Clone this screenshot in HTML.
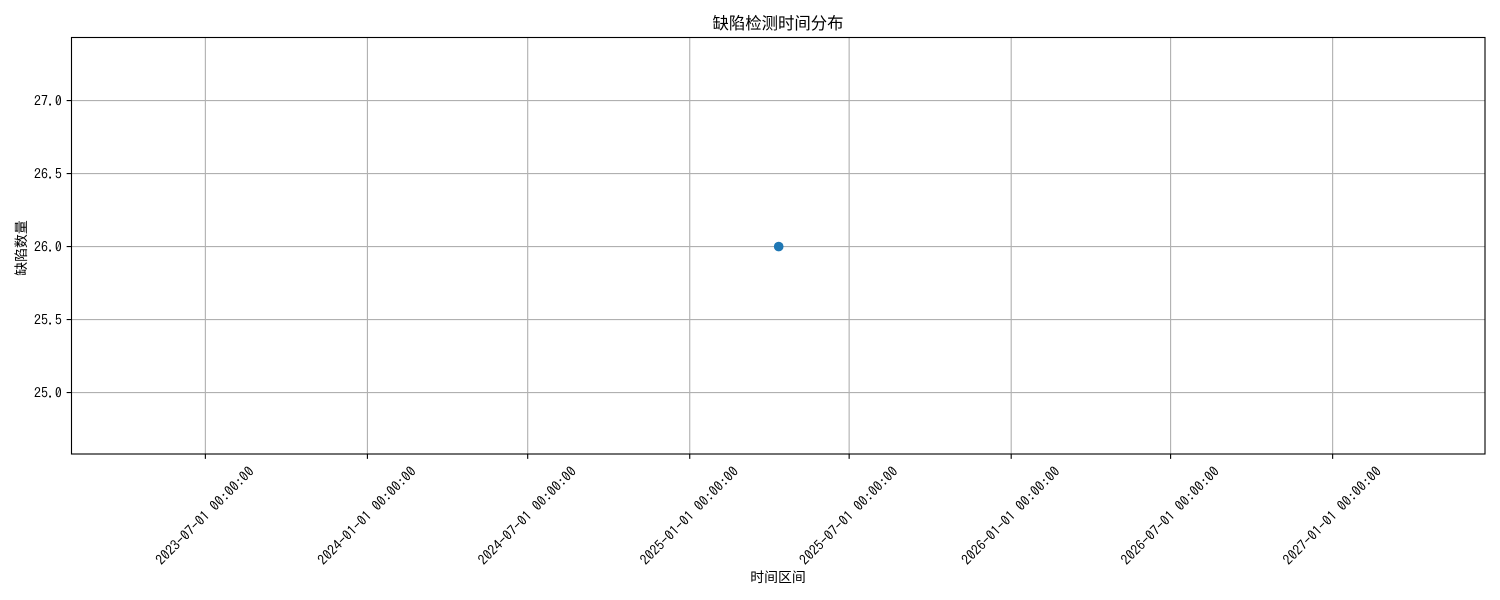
<!DOCTYPE html>
<html lang="zh-CN">
<head>
<meta charset="utf-8">
<title>缺陷检测时间分布</title>
<style>
html,body{margin:0;padding:0;background:#fff;width:1500px;height:600px;overflow:hidden}
svg{display:block}
text{font-family:"WenQuanYi Zen Hei","Noto Sans CJK SC","Liberation Sans",sans-serif;fill:#000}
text.mono{font-family:"IPAGothic","Liberation Mono","WenQuanYi Zen Hei",monospace}
</style>
</head>
<body>
<svg id="chart" xmlns="http://www.w3.org/2000/svg" width="1500" height="600" viewBox="0 0 1500 600">
  <rect x="0" y="0" width="1500" height="600" fill="#ffffff"/>
  <g id="grid"></g>
  <g id="marks"></g>
  <rect x="71.5" y="37.5" width="1413.5" height="416.5" fill="none" stroke="#000" stroke-width="1.11"/>
  <g id="ticks"></g>
  <text x="778" y="29" font-size="16.4" text-anchor="middle">缺陷检测时间分布</text>
  <text x="778" y="582" font-size="13.89" text-anchor="middle">时间区间</text>
  <text transform="translate(26,248) rotate(-90)" font-size="13.89" text-anchor="middle">缺陷数量</text>
</svg>
<script>
const xTickDates = ["2023-07-01", "2024-01-01", "2024-07-01", "2025-01-01", "2025-07-01", "2026-01-01", "2026-07-01", "2027-01-01"];
const yTickValues = [25.0, 25.5, 26.0, 26.5, 27.0];
const seriesDates = ["2025-04-12"];
const seriesCounts = [26];
const xDomain = ["2023-01-30", "2027-06-23"];
const yDomain = [24.579, 27.432];

const NS = "http://www.w3.org/2000/svg";
const plot = { left: 71.5, right: 1485, top: 37.5, bottom: 454 };
const toTime = function (d) { return Date.parse(d + "T00:00:00Z"); };
const xScale = function (d) {
  const a = toTime(xDomain[0]);
  const b = toTime(xDomain[1]);
  return plot.left + (toTime(d) - a) / (b - a) * (plot.right - plot.left);
};
const yScale = function (v) {
  return plot.bottom - (v - yDomain[0]) / (yDomain[1] - yDomain[0]) * (plot.bottom - plot.top);
};
const make = function (tag, attrs, parent) {
  const el = document.createElementNS(NS, tag);
  Object.keys(attrs).forEach(function (k) { el.setAttribute(k, attrs[k]); });
  parent.appendChild(el);
  return el;
};
const grid = document.getElementById("grid");
const ticks = document.getElementById("ticks");
const marks = document.getElementById("marks");

xTickDates.forEach(function (d) {
  const x = xScale(d);
  const g = make("line", { x1: x, x2: x, y1: plot.top, y2: plot.bottom, stroke: "#b0b0b0", "stroke-width": 1.11 }, grid);
  
  
  const t = make("line", { x1: x, x2: x, y1: plot.bottom, y2: plot.bottom + 4.86, stroke: "#000", "stroke-width": 1.11 }, ticks);
  
  
  const label = make("text", {
    class: "mono",
    transform: "translate(" + (x - 0.6) + ",515.5) rotate(-45)",
    "font-size": 13.89,
    "text-anchor": "middle",
    "dominant-baseline": "central",
    textLength: 132,
    lengthAdjust: "spacing"
  }, ticks);
  
  
  label.textContent = d + " 00:00:00";
});

yTickValues.forEach(function (v) {
  const y = yScale(v);
  const g = make("line", { x1: plot.left, x2: plot.right, y1: y, y2: y, stroke: "#b0b0b0", "stroke-width": 1.11 }, grid);
  
  
  const t = make("line", { x1: plot.left - 4.86, x2: plot.left, y1: y, y2: y, stroke: "#000", "stroke-width": 1.11 }, ticks);
  
  
  const label = make("text", {
    class: "mono",
    x: 61.8,
    y: y + 5,
    "font-size": 13.89,
    "text-anchor": "end",
    textLength: 27.8,
    lengthAdjust: "spacing"
  }, ticks);
  
  
  label.textContent = v.toFixed(1);
});

seriesDates.forEach(function (d, i) {
  const c = make("circle", { cx: xScale(d), cy: yScale(seriesCounts[i]), r: 4.86, fill: "#1f77b4" }, marks);
  
  
});
</script>
</body>
</html>
